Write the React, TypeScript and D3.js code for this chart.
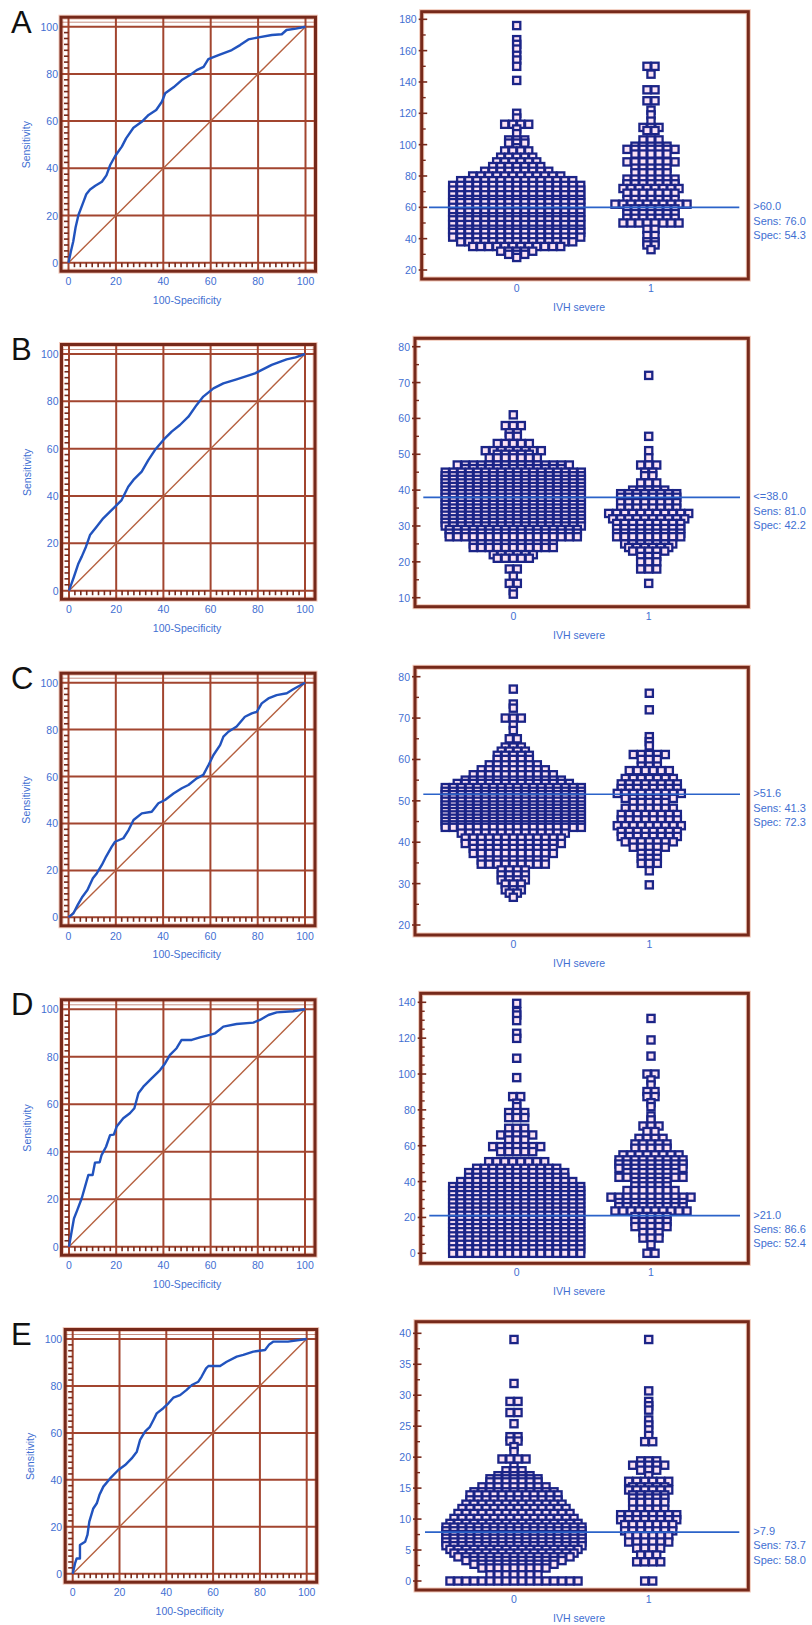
import React from 'react';
import * as d3 from 'd3';

const panelLetters = ['A', 'B', 'C', 'D', 'E'];

// ROC curves: [100-Specificity, Sensitivity]
const rocA: [number, number][] = [
  [0, 0], [1, 4.7], [2, 9], [3, 15], [4.2, 20.2], [6.3, 25.8], [7.5, 29], [9.1, 31], [11.3, 32.6],
  [14.1, 34.3], [16, 37], [17.6, 41.4], [19.7, 45.2], [22.5, 49.2], [24.3, 52.7], [27.4, 57.2],
  [30.9, 59.7], [33.8, 62.6], [37, 64.7], [39.4, 68.2], [40.8, 71.8], [44.3, 74.3], [47.8, 77.4],
  [51.3, 79.5], [54.1, 81.6], [57, 83], [59, 86.3], [63.3, 88], [68.9, 90.1], [72.4, 92.2],
  [75.9, 94.6], [80.2, 95.5], [85.8, 96.5], [90, 96.8], [92, 98.6], [96, 99.2], [100, 100],
];
const rocB: [number, number][] = [
  [0, 0], [1.1, 3.1], [2.1, 5.9], [4, 11.5], [5.4, 14.4], [7.2, 18.6], [8.9, 23.5], [11.7, 27],
  [14.5, 30.6], [18.8, 34.8], [22.3, 38.3], [25.1, 43.9], [27.3, 46.8], [30.8, 50.3], [33.6, 55.2],
  [36.4, 59.4], [40, 63.7], [43.5, 67.2], [47, 70], [50.6, 73.5], [54.1, 78.5], [56.9, 82],
  [61.2, 85.5], [65.4, 87.6], [71, 89.3], [78.8, 91.8], [85.9, 95.4], [92.2, 97.7], [96, 98.6], [100, 100],
];
const rocC: [number, number][] = [
  [0, 0], [2.1, 1.7], [3.9, 5.3], [5.9, 8.8], [8, 11.6], [10.3, 16.6], [12, 18.8], [14.1, 22.3],
  [15.9, 25.9], [18.3, 30.1], [19.7, 32.2], [23.2, 33.7], [25.4, 37.2], [27.5, 41.5], [31, 44.3],
  [35.2, 45], [38, 48.6], [40.8, 50], [44.4, 52.8], [47.9, 55], [50.7, 56.4], [54.2, 59.2],
  [57, 60.7], [59.2, 64.9], [61.3, 69.2], [64.1, 73.4], [65.5, 77], [67.6, 79.1], [71.1, 81.3],
  [74.6, 85.5], [77.5, 86.9], [79.6, 87.6], [81.7, 91.2], [84.5, 93.3], [88, 94.7], [92.3, 95.5],
  [95, 97.2], [100, 100],
];
const rocD: [number, number][] = [
  [0, 0], [1.1, 6.3], [2.1, 11.9], [3.5, 15.4], [5.4, 20.4], [6.8, 25.3], [8.2, 30.2], [10, 30.2],
  [11, 35.4], [13, 35.6], [13.8, 38.6], [15.7, 42.1], [17.4, 47], [19, 47.2], [20.2, 50.6],
  [23, 54.1], [25.8, 56.2], [27.7, 58.3], [29.4, 64.6], [31.5, 67.4], [35, 70.9], [38.6, 74.4],
  [40.7, 77.2], [42.8, 80.8], [45.6, 83.6], [47.7, 87.1], [52, 87.1], [55.5, 88.2], [59.7, 89.2],
  [61.9, 89.9], [65.4, 92.7], [71, 93.8], [78.1, 94.4], [80.9, 95.5], [84.5, 97.6], [88, 98.7],
  [95, 99.2], [100, 100],
];
const rocE: [number, number][] = [
  [0, 0], [1, 4.4], [1.7, 6.5], [3.1, 6.5], [3.1, 12.2], [5.3, 13.6], [6.3, 16.5], [7.1, 22.2],
  [8.8, 27.8], [10.3, 30], [11.4, 33.5], [13.1, 37.1], [16, 40.6], [19.5, 44.2], [22.4, 46.3],
  [25.2, 49.1], [27.4, 52], [28.8, 57], [30.9, 60.5], [33, 62.6], [34.5, 65.5], [35.9, 68.3],
  [38.7, 70.5], [40.9, 72.6], [43, 75], [45.9, 76.1], [48.7, 78.3], [50.9, 80.4], [53.7, 81.8],
  [55.1, 84], [57, 87.5], [58, 88.5], [63, 88.5], [65.8, 90.3], [70.1, 92.5], [72.9, 93.2],
  [77.2, 94.6], [82.2, 95.3], [84, 97.7], [85.8, 98.9], [92, 98.9], [100, 100],
];
const rocTicks = [0, 20, 40, 60, 80, 100];

// dot plot rows: [value, number of cases drawn side by side]
const dotsA0: [number, number][] = [
  [176, 1], [167, 1], [164, 1], [161, 1], [157, 1], [154, 1], [150, 1], [141, 1],
  [120, 1], [117, 1], [113, 4], [110, 1], [107, 1], [103, 3], [101, 3], [98, 1], [96, 4], [92, 5],
  [89, 6], [86, 7], [83, 9], [80, 12], [77, 15], [74, 17], [71, 17], [68, 17], [65, 17], [63, 17],
  [60, 17], [57, 17], [54, 17], [52, 17], [49, 17], [46, 17], [44, 17], [41, 17], [38, 15],
  [35, 12], [32, 5], [30, 3], [28, 1],
];
const dotsA1: [number, number][] = [
  [150, 2], [145, 1], [135, 2], [128, 2], [122, 1], [119, 1], [115, 1], [111, 3], [109, 2],
  [103, 3], [99, 5], [97, 7], [94, 5], [89, 7], [85, 5], [82, 5], [78, 7], [75, 7], [72, 8],
  [69, 7], [65, 7], [62, 10], [59, 7], [56, 7], [53, 7], [50, 8], [46, 2], [42, 2], [38, 2],
  [36, 2], [33, 1],
];
const dotsB0: [number, number][] = [
  [61, 1], [58, 3], [56, 2], [55, 2], [53, 5], [51, 8], [50, 5], [49, 7], [47, 15], [46, 13],
  [45, 18], [44, 18], [43, 18], [42, 18], [41, 18], [40, 18], [39, 18], [38, 18], [37, 18],
  [36, 18], [35, 18], [34, 18], [33, 18], [32, 18], [31, 18], [30, 18], [29, 17], [28, 17],
  [27, 17], [25, 11], [24, 11], [22, 6], [21, 5], [18, 2], [16, 1], [14, 2], [12, 1], [11, 1],
];
const dotsB1: [number, number][] = [
  [72, 1], [55, 1], [51, 1], [49, 1], [47, 3], [45, 2], [44, 2], [42, 3], [40, 5], [39, 8],
  [38, 8], [36.5, 8], [35, 8], [33.5, 11], [32, 10], [30.7, 9], [29.3, 9], [28, 9], [27, 9],
  [25, 7], [24, 6], [23, 5], [21.5, 3], [20, 3], [18, 3], [14, 1],
];
const dotsC0: [number, number][] = [
  [77, 1], [73.4, 1], [72.4, 1], [70, 3], [68.3, 1], [67, 1], [65, 2], [63, 3], [62, 4], [61, 5],
  [60, 5], [58.7, 7], [57.5, 9], [56.3, 11], [55, 13], [54.2, 15], [53.2, 18], [52.3, 18],
  [51.5, 18], [50.7, 18], [49.9, 18], [49, 18], [48.2, 18], [47.4, 18], [46.6, 18], [45.8, 18],
  [45, 18], [44.2, 18], [43.6, 18], [42.2, 14], [41, 13], [39.7, 13], [38.5, 11], [37.3, 11],
  [35.7, 9], [34.7, 9], [33.3, 4], [32.1, 4], [30.9, 4], [29.9, 3], [28.5, 3], [27.7, 2], [26.7, 1],
];
const dotsC1: [number, number][] = [
  [76, 1], [72, 1], [65.5, 1], [64.3, 1], [63.3, 1], [61.2, 5], [60, 3], [58.4, 3], [57.3, 6],
  [55.4, 7], [54.1, 8], [53, 8], [51.8, 9], [50.6, 7], [49.6, 5], [48.2, 7], [46.7, 8], [45.4, 8],
  [44, 9], [42.6, 8], [41.4, 8], [40.1, 7], [38.8, 5], [37.3, 3], [36.1, 3], [34.9, 3], [33.1, 1],
  [29.7, 1],
];
const dotsD0: [number, number][] = [
  [139.4, 1], [134.8, 1], [132.9, 1], [129.8, 1], [122.7, 1], [119.9, 1], [108.8, 1], [98, 1],
  [87.4, 2], [83.7, 1], [81.8, 1], [78.5, 3], [75.7, 3], [69.7, 3], [66, 5], [63.2, 3], [59.5, 7],
  [56.7, 5], [51.1, 8], [47.4, 11], [45, 13], [42.4, 13], [40, 15], [37.2, 17], [35, 17],
  [32.7, 17], [30.4, 17], [28.1, 17], [25.8, 17], [23.5, 17], [21.2, 17], [18.9, 17], [16.6, 17],
  [14.3, 17], [12, 17], [9.7, 17], [7.4, 17], [5, 17], [2.5, 17], [0, 17],
];
const dotsD1: [number, number][] = [
  [131, 1], [119, 1], [110, 1], [100, 2], [96.7, 1], [93.9, 1], [90.2, 2], [87.4, 2], [84, 1],
  [81.8, 1], [76.6, 1], [74.4, 1], [71, 3], [67.9, 2], [64.1, 4], [61, 5], [58.6, 5], [54.9, 8],
  [52.1, 9], [49.8, 9], [47.4, 9], [45, 7], [42.4, 9], [40, 5], [37.6, 5], [35, 7], [31.3, 11],
  [28.3, 9], [26, 9], [23.6, 10], [20.5, 5], [17.7, 5], [14.9, 5], [11.6, 3], [8.5, 3], [4.8, 1],
  [0, 2],
];
const dotsE0: [number, number][] = [
  [39, 1], [31.9, 1], [29, 2], [27.2, 2], [25.4, 1], [23.3, 2], [22.6, 2], [21.7, 1], [20.9, 1],
  [19.7, 4], [18.5, 1], [17.8, 3], [17, 5], [16.5, 7], [16, 7], [15.2, 9], [14.4, 11], [13.9, 12],
  [13.1, 12], [12.4, 13], [11.7, 14], [10.9, 15], [10.1, 16], [9.3, 17], [8.7, 18], [8.1, 18],
  [7.5, 18], [6.9, 18], [6.3, 18], [5.7, 18], [5.1, 17], [4.5, 16], [3.9, 15], [3.3, 13],
  [2.7, 11], [2.1, 9], [1, 7], [0, 17],
];
const dotsE1: [number, number][] = [
  [39, 1], [30.7, 1], [29, 1], [28.3, 1], [27.6, 1], [26, 1], [25.2, 1], [24.4, 1], [23.5, 1],
  [22.5, 2], [19.4, 3], [18.7, 5], [17.9, 3], [17, 1], [16.1, 6], [15.2, 5], [14.7, 6], [13.9, 5],
  [13.4, 5], [12.7, 5], [11.6, 5], [10.7, 8], [9.9, 8], [9.1, 7], [8.1, 7], [7.3, 6], [6.3, 6],
  [5.3, 4], [4.2, 3], [3.1, 4], [0, 2],
];

const yTicksA = [20, 40, 60, 80, 100, 120, 140, 160, 180];
const yTicksB = [10, 20, 30, 40, 50, 60, 70, 80];
const yTicksC = [20, 30, 40, 50, 60, 70, 80];
const yTicksD = [0, 20, 40, 60, 80, 100, 120, 140];
const yTicksE = [0, 5, 10, 15, 20, 25, 30, 35, 40];
const minorSteps = [10, 5, 5, 5, 2.5];

const groups = ['0', '1'];
const cutoffs = [60.0, 38.0, 51.6, 21.0, 7.9];
const cutoffText = [
  ['>60.0', 'Sens: 76.0', 'Spec: 54.3'],
  ['<=38.0', 'Sens: 81.0', 'Spec: 42.2'],
  ['>51.6', 'Sens: 41.3', 'Spec: 72.3'],
  ['>21.0', 'Sens: 86.6', 'Spec: 52.4'],
  ['>7.9', 'Sens: 73.7', 'Spec: 58.0'],
];

const rocCurves = [rocA, rocB, rocC, rocD, rocE];
const dotGroups = [[dotsA0, dotsA1], [dotsB0, dotsB1], [dotsC0, dotsC1], [dotsD0, dotsD1], [dotsE0, dotsE1]];
const yTicks = [yTicksA, yTicksB, yTicksC, yTicksD, yTicksE];

// layout (pixels)
const rocBoxes = [
  { x0: 68.5, x1: 305.5, top: 26.7, bottom: 262.7 },
  { x0: 69, x1: 305, top: 354, bottom: 590.7 },
  { x0: 68.5, x1: 305, top: 682.7, bottom: 917.3 },
  { x0: 69, x1: 305, top: 1009.3, bottom: 1246.7 },
  { x0: 72.7, x1: 306.7, top: 1339, bottom: 1573.7 },
];
const dotBoxes = [
  { left: 421.7, top: 11.7, right: 748.3, bottom: 279, vTop: 19.3, vBottom: 270, g0: 516.7, g1: 651, l0: 429, l1: 739.3 },
  { left: 415, top: 338.3, right: 748.3, bottom: 606.7, vTop: 346.7, vBottom: 597.7, g0: 513.3, g1: 648.7, l0: 423.3, l1: 740 },
  { left: 415, top: 667.3, right: 748.3, bottom: 935, vTop: 676.7, vBottom: 925, g0: 513.3, g1: 649.3, l0: 423.3, l1: 740 },
  { left: 420.7, top: 993.3, right: 748.3, bottom: 1263.3, vTop: 1002.3, vBottom: 1253.3, g0: 516.7, g1: 651, l0: 429.3, l1: 740 },
  { left: 416, top: 1321.7, right: 748.3, bottom: 1590, vTop: 1333.3, vBottom: 1581, g0: 514, g1: 648.7, l0: 425, l1: 739.3 },
];

const FONT = 'Liberation Sans, Arial, sans-serif';
const BLUE_TEXT = '#3f6fd2';
const GRID = '#a2452f';
const FRAME = '#76291a';
const PITCH = 8;
const SQ = 7.2;

const RocPanel = ({ i }: { i: number }) => {
  const b = rocBoxes[i];
  const x = d3.scaleLinear().domain([0, 100]).range([b.x0, b.x1]);
  const y = d3.scaleLinear().domain([0, 100]).range([b.bottom, b.top]);
  const fl = b.x0 - 7.5, fr = b.x1 + 10, ft = b.top - 9.5, fb = b.bottom + 8.5;
  const line = d3.line<[number, number]>().x(d => x(d[0])).y(d => y(d[1]));
  const minor = d3.range(0, 100.01, 2.5).filter(t => t % 20 !== 0);

  return (
    <g>
      <text x={11} y={ft + 15.5} fontSize={31} fontFamily={FONT} fill="#111">{panelLetters[i]}</text>
      <rect x={fl} y={ft} width={fr - fl} height={fb - ft} fill="#fff" stroke="#f1c9bc" strokeWidth={5} />
      {rocTicks.map(t => (
        <g key={t}>
          <line x1={x(t)} x2={x(t)} y1={ft} y2={fb} stroke={GRID} strokeWidth={2} />
          <line x1={fl} x2={fr} y1={y(t)} y2={y(t)} stroke={GRID} strokeWidth={2} />
        </g>
      ))}
      <line x1={fl} x2={fr} y1={ft + 5} y2={ft + 5} stroke={GRID} strokeWidth={1} opacity={0.6} />
      {minor.map(t => (
        <g key={t}>
          <line x1={x(t)} x2={x(t)} y1={y(0)} y2={y(0) + 4.5} stroke={FRAME} strokeWidth={1.6} />
          <line x1={x(0)} x2={x(0) - 4.5} y1={y(t)} y2={y(t)} stroke={FRAME} strokeWidth={1.6} />
        </g>
      ))}
      <line x1={x(0)} y1={y(0)} x2={x(100)} y2={y(100)} stroke="#b5603f" strokeWidth={1.4} />
      <path d={line(rocCurves[i]) || ''} fill="none" stroke="#2153be" strokeWidth={2.4} strokeLinejoin="round" />
      <rect x={fl} y={ft} width={fr - fl} height={fb - ft} fill="none" stroke={FRAME} strokeWidth={3} />
      {rocTicks.map(t => (
        <g key={'l' + t} fontFamily={FONT} fontSize={10.5} fill={BLUE_TEXT}>
          <text x={x(t)} y={fb + 10} textAnchor="middle" dominantBaseline="central">{t}</text>
          <text x={fl - 3} y={y(t)} textAnchor="end" dominantBaseline="central">{t}</text>
        </g>
      ))}
      <text x={(b.x0 + b.x1) / 2} y={fb + 28.5} textAnchor="middle" dominantBaseline="central"
        fontFamily={FONT} fontSize={10.5} fill={BLUE_TEXT}>100-Specificity</text>
      <text transform={`translate(${fl - 35},${(b.top + b.bottom) / 2}) rotate(-90)`} textAnchor="middle"
        dominantBaseline="central" fontFamily={FONT} fontSize={10.5} fill={BLUE_TEXT}>Sensitivity</text>
    </g>
  );
};

const DotPanel = ({ i }: { i: number }) => {
  const b = dotBoxes[i];
  const ticks = yTicks[i];
  const y = d3.scaleLinear().domain([ticks[0], ticks[ticks.length - 1]]).range([b.vBottom, b.vTop]);
  const gx = d3.scaleOrdinal<string, number>().domain(groups).range([b.g0, b.g1]);
  const minor = d3.range(ticks[0], ticks[ticks.length - 1] + 0.01, minorSteps[i]).filter(t => !ticks.includes(t));
  const squares = dotGroups[i].flatMap((rows, gi) =>
    rows.flatMap(([v, n]) => d3.range(n).map(k => ({ cx: gx(groups[gi]) + (k - (n - 1) / 2) * PITCH, cy: y(v) })))
  );
  const cy = y(cutoffs[i]);

  return (
    <g>
      <rect x={b.left} y={b.top} width={b.right - b.left} height={b.bottom - b.top} fill="#fff" stroke="#f1c6b6" strokeWidth={5} />
      {squares.map((s, k) => (
        <rect key={k} x={s.cx - SQ / 2} y={s.cy - SQ / 2} width={SQ} height={SQ}
          fill="#fbe2f4" stroke="#1b2487" strokeWidth={2.3} />
      ))}
      <line x1={b.l0} x2={b.l1} y1={cy} y2={cy} stroke="#2b63c9" strokeWidth={1.7} />
      <rect x={b.left} y={b.top} width={b.right - b.left} height={b.bottom - b.top} fill="none" stroke={FRAME} strokeWidth={3} />
      {ticks.map(t => (
        <g key={t}>
          <line x1={b.left - 3} x2={b.left + 5.5} y1={y(t)} y2={y(t)} stroke={FRAME} strokeWidth={1.6} />
          <text x={b.left - 5} y={y(t)} textAnchor="end" dominantBaseline="central"
            fontFamily={FONT} fontSize={10.5} fill={BLUE_TEXT}>{t}</text>
        </g>
      ))}
      {minor.map(t => (
        <line key={t} x1={b.left} x2={b.left + 4} y1={y(t)} y2={y(t)} stroke={FRAME} strokeWidth={1.4} />
      ))}
      {groups.map(g => (
        <text key={g} x={gx(g)} y={b.bottom + 9} textAnchor="middle" dominantBaseline="central"
          fontFamily={FONT} fontSize={10.5} fill={BLUE_TEXT}>{g}</text>
      ))}
      <text x={579} y={b.bottom + 28} textAnchor="middle" dominantBaseline="central"
        fontFamily={FONT} fontSize={10.5} fill={BLUE_TEXT}>IVH severe</text>
      {cutoffText[i].map((s, k) => (
        <text key={k} x={b.right + 5} y={cy - 1 + k * 14.3} dominantBaseline="central"
          fontFamily={FONT} fontSize={11} fill={BLUE_TEXT}>{s}</text>
      ))}
    </g>
  );
};

export default function App() {
  return (
    <svg width={812} height={1625} style={{ position: 'absolute', left: 0, top: 0, background: '#fff' }}>
      <rect width={812} height={1625} fill="#fff" />
      {panelLetters.map((_, i) => (
        <g key={i}>
          <RocPanel i={i} />
          <DotPanel i={i} />
        </g>
      ))}
    </svg>
  );
}
